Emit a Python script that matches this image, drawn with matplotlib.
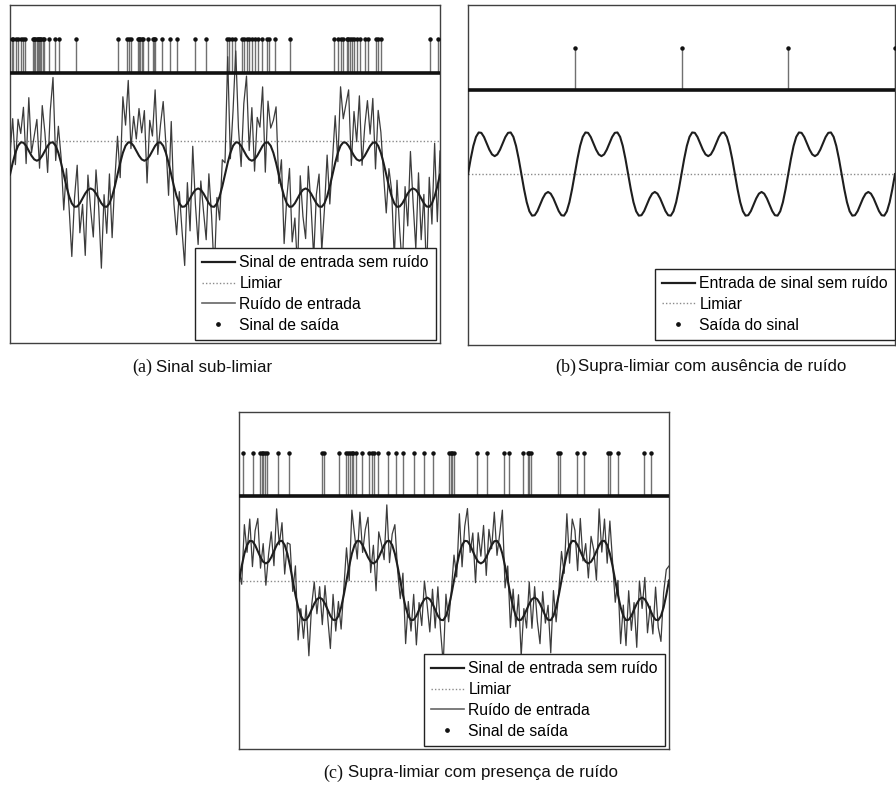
import numpy as np
import matplotlib.pyplot as plt
from matplotlib.lines import Line2D

plt.rcParams['font.family'] = ['Liberation Sans', 'DejaVu Sans']

# one period of the clean input signal (40 samples), same shape in every panel
signal_period = [0.000, 0.397, 0.738, 0.977, 1.092, 1.082, 0.973, 0.808, 0.640, 0.516,
                 0.470, 0.516, 0.640, 0.808, 0.973, 1.082, 1.092, 0.977, 0.738, 0.397,
                 0.000, -0.397, -0.738, -0.977, -1.092, -1.082, -0.973, -0.808, -0.640, -0.516,
                 -0.470, -0.516, -0.640, -0.808, -0.973, -1.082, -1.092, -0.977, -0.738, -0.397]
n_periods = 4
t_end = 400

# threshold level for each panel
threshold_a = 1.136
threshold_b = 0.0
threshold_c = 0.0

# input noise (a) and (c), one value per signal sample
noise_a = [0.7, 1.5, -0.4, 0.9, 0.3, 1.2, -0.6, 1.8, 0.1, 0.8,
           1.4, -0.3, 1.7, 0.6, -0.9, 1.1, 2.2, -0.5, 0.9, 0.2,
           -1.2, 0.6, -0.4, -1.8, 0.3, 1.4, -1.0, -0.2, -2.1, 0.5,
           -0.7, -1.6, 0.8, -0.3, -2.2, 0.4, -0.9, 1.0, -1.4, 0.2,
           1.3, -0.5, 1.9, 0.7, 2.1, -0.2, 1.0, 0.4, 1.6, 0.9,
           1.7, -0.8, 1.2, 0.5, 1.9, -0.4, 0.6, 1.5, 0.3, -1.1,
           1.8, -0.6, -1.3, 0.4, -0.8, -2.0, 0.7, -1.1, 1.6, -0.5,
           -1.9, 0.3, -0.6, -1.4, 1.0, -0.3, -2.3, 0.2, -0.8, 0.9,
           0.4, 3.6, -0.2, 1.2, 3.1, 0.5, -0.7, 1.6, 2.7, 0.3,
           1.8, -0.4, 1.3, 0.8, 2.0, -1.0, 1.4, 0.6, 1.1, 1.9,
           -0.3, 0.9, -1.6, 0.2, 1.3, -1.2, -0.5, -2.4, 0.6, -0.9,
           -1.7, 0.8, -0.4, -2.0, 0.3, 1.1, -1.5, -0.2, 1.4, -0.6,
           0.5, 1.6, -0.3, 2.0, 0.8, 1.3, 1.9, -0.5, 1.5, 0.6,
           2.2, -0.2, 1.0, 1.7, 0.4, 1.5, -0.9, 1.2, 0.7, -0.4,
           -1.3, 0.6, 0.2, -1.9, 0.9, -0.8, -2.2, 0.4, -1.1, 1.3,
           -0.5, -2.0, 0.7, -1.4, 0.3, -2.4, 1.0, -0.7, 1.8, -1.2,
           0.8]
noise_c = [0.3, -0.5, 0.8, -0.2, 0.6, -0.7, 0.4, 0.9, -0.3, 0.5,
           -0.6, 0.2, 0.7, -0.4, 1.0, -0.1, 0.5, -0.8, 0.3, 0.6,
           -0.3, 0.8, -0.9, 0.2, -0.5, 0.4, -1.1, 0.1, 0.6, -0.4,
           0.3, -0.7, 0.5, -0.2, -0.9, 0.7, -0.3, 0.4, -0.6, 0.2,
           0.9, -0.4, 1.2, 0.3, -0.5, 0.8, -0.2, 0.6, 1.1, -0.3,
           0.5, -0.8, 0.7, 0.2, -0.4, 1.0, -0.6, 0.3, 0.8, -0.1,
           -0.5, 0.6, -1.0, 0.4, -0.3, 0.7, -0.8, 0.2, -0.6, 0.5,
           -0.2, -0.9, 0.4, -0.5, 0.8, -0.3, -1.2, 0.6, -0.4, 0.1,
           0.7, -0.3, 1.1, -0.6, 0.4, 0.9, -0.2, 0.5, -0.7, 0.8,
           0.2, 1.0, -0.5, 0.6, -0.1, 0.8, -0.4, 0.3, 1.2, -0.6,
           0.4, -0.9, 0.5, -0.3, 0.7, -1.0, 0.2, -0.5, 0.6, -0.8,
           0.3, -0.6, -1.1, 0.5, -0.2, 0.4, -0.9, 0.7, -0.4, 0.1,
           0.8, -0.2, 1.1, -0.5, 0.6, 0.3, -0.7, 0.9, -0.1, 0.5,
           -0.4, 0.7, 0.2, -0.8, 1.0, -0.3, 0.6, -0.5, 0.9, 0.1,
           -0.6, 0.4, -1.0, 0.3, -0.7, 0.8, -0.4, 0.2, -1.2, 0.5,
           -0.3, 0.6, -0.8, 0.1, -0.5, 0.9, -0.2, -0.7, 0.4, 0.7,
           0.4]

# output spike times (same time axis, 0..400)
spikes_a = [1.6, 3.1, 5.3, 7.7, 10.0, 11.8, 14.0, 21.1, 22.3, 23.5, 24.8, 25.8, 27.0,
            27.9, 29.1, 30.4, 31.9, 36.5, 41.9, 45.9, 61.4, 100.2, 108.5, 110.4, 112.3,
            118.8, 120.0, 121.2, 122.5, 123.7, 128.3, 132.7, 133.9, 135.1, 141.1, 149.1,
            155.0, 172.1, 182.0, 201.5, 203.9, 206.7, 209.3, 215.5, 217.9, 220.1, 222.3,
            224.8, 227.9, 230.4, 234.1, 238.7, 240.6, 246.7, 260.7, 301.3, 305.3, 307.8,
            310.0, 313.2, 314.7, 316.2, 318.4, 320.2, 323.0, 325.5, 330.4, 332.9, 340.4,
            342.5, 345.0, 390.6, 398.3]
spikes_b = [100, 200, 300, 400]
spikes_c = [4.0, 12.7, 19.5, 21.1, 22.6, 24.2, 25.8, 36.5, 46.5, 77.5, 79.3, 93.3, 99.2,
            101.6, 103.2, 104.8, 106.3, 108.5, 114.4, 121.2, 123.4, 125.6, 129.5, 138.3,
            146.0, 152.2, 163.0, 172.3, 180.1, 195.3, 196.9, 198.4, 200.2, 221.6, 230.4,
            246.5, 250.8, 263.8, 268.5, 270.0, 271.6, 297.0, 298.5, 314.6, 320.9, 342.9,
            345.0, 352.2, 376.7, 383.4]

labels_ac = ['Sinal de entrada sem ruído', 'Limiar', 'Ruído de entrada', 'Sinal de saída']
labels_b = ['Entrada de sinal sem ruído', 'Limiar', 'Saída do sinal']

W, H = 896, 787
fig = plt.figure(figsize=(W / 100, H / 100), dpi=100)

time = np.linspace(0, t_end, n_periods * len(signal_period) + 1)
clean = np.append(np.tile(signal_period, n_periods), signal_period[0])


def px_rect(left, top, right, bottom):
    return [left / W, 1 - bottom / H, (right - left) / W, (bottom - top) / H]


def panel(rect, ylim, base, top, spikes, thr, noise, labels, leg_xy):
    ax = fig.add_axes(rect)
    ax.set_xlim(0, t_end)
    ax.set_ylim(*ylim)
    ax.set_xticks([])
    ax.set_yticks([])
    for s in ax.spines.values():
        s.set_color('#404040')
        s.set_linewidth(1.0)

    # spike train above the baseline
    ax.vlines(spikes, base, top, color='#707070', lw=1.0, clip_on=False, zorder=2)
    ax.plot(spikes, [top] * len(spikes), 'o', ms=2.2, color='#111111',
            clip_on=False, zorder=3)
    ax.axhline(base, color='#111111', lw=2.6, zorder=4)

    ax.axhline(thr, color='#8a8a8a', lw=1.0, ls=(0, (1, 1.5)), zorder=1)
    if noise is not None:
        ax.plot(time, clean + np.array(noise), color='#3c3c3c', lw=0.9, zorder=2)
    ax.plot(time, clean, color='#1e1e1e', lw=1.5, zorder=3)

    h_clean = Line2D([], [], color='#1e1e1e', lw=1.6)
    h_thr = Line2D([], [], color='#8a8a8a', lw=1.0, ls=(0, (1, 1.5)))
    h_noise = Line2D([], [], color='#666666', lw=1.2)
    h_out = Line2D([], [], ls='none', marker='o', ms=2.4, color='#111111')
    handles = [h_clean, h_thr, h_noise, h_out] if noise is not None else [h_clean, h_thr, h_out]

    leg = ax.legend(handles, labels, loc='lower right',
                    bbox_to_anchor=(leg_xy[0] / W, 1 - leg_xy[1] / H),
                    bbox_transform=fig.transFigure, borderaxespad=0,
                    fontsize=11.3, frameon=True, fancybox=False, framealpha=1,
                    edgecolor='#222222', handlelength=2.1, handletextpad=0.3,
                    labelspacing=0.38, borderpad=0.45)
    leg.get_frame().set_linewidth(1.0)
    leg.set_zorder(10)
    return ax


panel(px_rect(10, 5, 440, 343), (-5.71, 5.75), 3.44, 4.59, spikes_a, threshold_a,
      noise_a, labels_ac, (436, 340))
panel(px_rect(468, 5, 895, 345), (-4.49, 4.44), 2.2, 3.31, spikes_b, threshold_b,
      None, labels_b, (895, 340))
panel(px_rect(239, 412, 669, 749), (-4.64, 4.64), 2.33, 3.51, spikes_c, threshold_c,
      noise_c, labels_ac, (665, 746))

# captions: letter in serif, title in sans
captions = [('(a)', 'Sinal sub-limiar', 152, 156, 367),
            ('(b)', 'Supra-limiar com ausência de ruído', 576, 578, 367),
            ('(c)', 'Supra-limiar com presença de ruído', 343, 348, 773)]
for tag, txt, xt, xs, yc in captions:
    fig.text(xt / W, 1 - yc / H, tag, ha='right', va='center', fontsize=13,
             family=['Liberation Serif', 'DejaVu Serif'], color='#111111')
    fig.text(xs / W, 1 - yc / H, txt, ha='left', va='center', fontsize=12.2,
             color='#111111')

fig.savefig('out.png', dpi=100)
